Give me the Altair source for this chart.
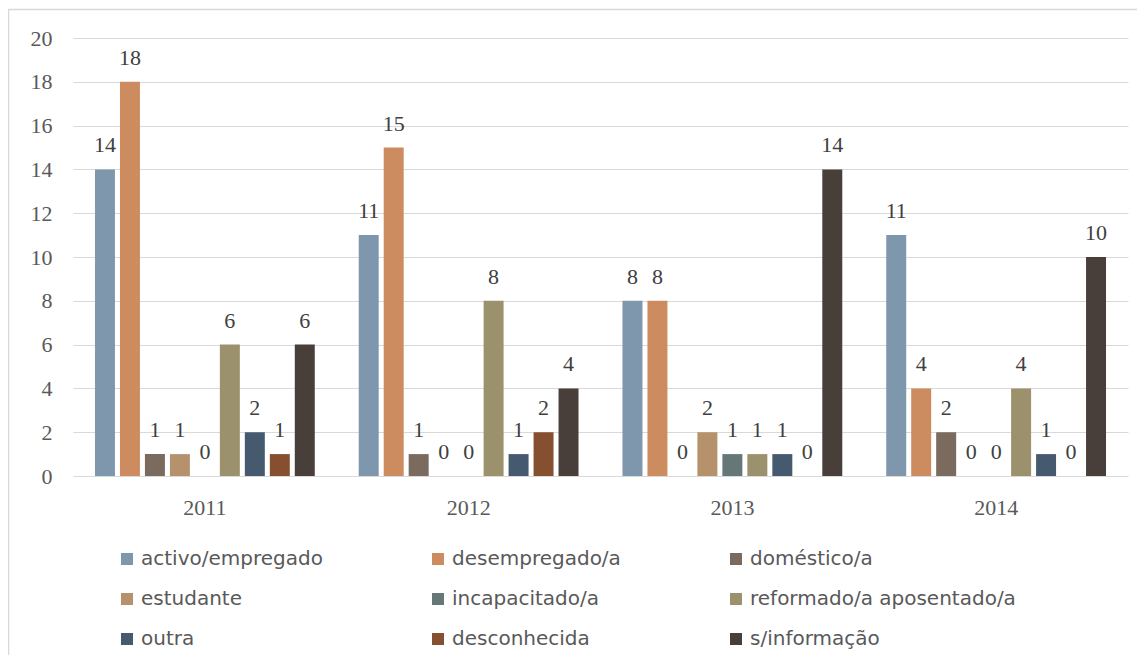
import altair as alt
import pandas as pd

years = ["2011", "2012", "2013", "2014"]
categories = [
    "activo/empregado", "desempregado/a", "doméstico/a",
    "estudante", "incapacitado/a", "reformado/a aposentado/a",
    "outra", "desconhecida", "s/informação",
]
colors = ["#7f97ad", "#cd8c5f", "#7b6a5e", "#b5926b", "#667778",
          "#9c916d", "#465a6f", "#865030", "#483f3a"]
values_2011 = [14, 18, 1, 1, 0, 6, 2, 1, 6]
values_2012 = [11, 15, 1, 0, 0, 8, 1, 2, 4]
values_2013 = [8, 8, 0, 2, 1, 1, 1, 0, 14]
values_2014 = [11, 4, 2, 0, 0, 4, 1, 0, 10]

rows = []
for yr, vals in zip(years, [values_2011, values_2012, values_2013, values_2014]):
    for c, v in zip(categories, vals):
        rows.append({"ano": yr, "categoria": c, "valor": v})
df = pd.DataFrame(rows)

# legend is filled column by column: reorder so rows read like the reference
legend_order = [categories[i] for i in (0, 3, 6, 1, 4, 7, 2, 5, 8)]

x = alt.X("ano:N", sort=years, title=None,
          scale=alt.Scale(paddingInner=0, paddingOuter=0),
          axis=alt.Axis(labelAngle=0, ticks=False, domain=False, labelPadding=21,
                        labelFont="Liberation Serif", labelFontSize=22,
                        labelColor="#595959"))
xo = alt.XOffset("categoria:N", sort=categories,
                 scale=alt.Scale(paddingInner=0.2, paddingOuter=0.88))
y = alt.Y("valor:Q", title=None,
          scale=alt.Scale(domain=[0, 20], nice=False),
          axis=alt.Axis(values=list(range(0, 21, 2)), ticks=False, domain=False,
                        grid=True, gridColor="#d9d9d9", gridWidth=1.2,
                        labelPadding=21, labelFont="Liberation Serif",
                        labelFontSize=22, labelColor="#595959"))
color = alt.Color("categoria:N", sort=categories, title=None,
                  scale=alt.Scale(domain=categories, range=colors),
                  legend=alt.Legend(orient="none", legendX=44, legendY=511,
                                    columns=3, values=legend_order,
                                    symbolType="square",
                                    symbolSize=144, symbolStrokeWidth=0,
                                    labelFont="DejaVu Sans", labelFontSize=20,
                                    labelColor="#595959", labelOffset=4,
                                    labelLimit=400, rowPadding=20,
                                    columnPadding=105, padding=0))

bars = alt.Chart(df).mark_bar().encode(x=x, xOffset=xo, y=y, color=color)
labels = alt.Chart(df).mark_text(
    dy=-17, baseline="alphabetic", font="Liberation Serif", fontSize=22,
    color="#404040"
).encode(x=x, xOffset=xo, y=y, text="valor:Q")

border = alt.Chart(alt.Data(values=[{}])).mark_rect(
    fill="transparent", stroke="#d9d9d9", strokeWidth=1.5
).encode(x=alt.value(-64.5), x2=alt.value(1200), y=alt.value(-28.5), y2=alt.value(800))

chart = alt.layer(border, bars, labels).properties(
    width=1055, height=438,
    autosize=alt.AutoSizeParams(type="none"),
    padding={"left": 65, "top": 30, "right": 9, "bottom": 179},
).configure_view(stroke=None)

chart.save("out.html", embed_options={"renderer": "svg", "actions": False})
